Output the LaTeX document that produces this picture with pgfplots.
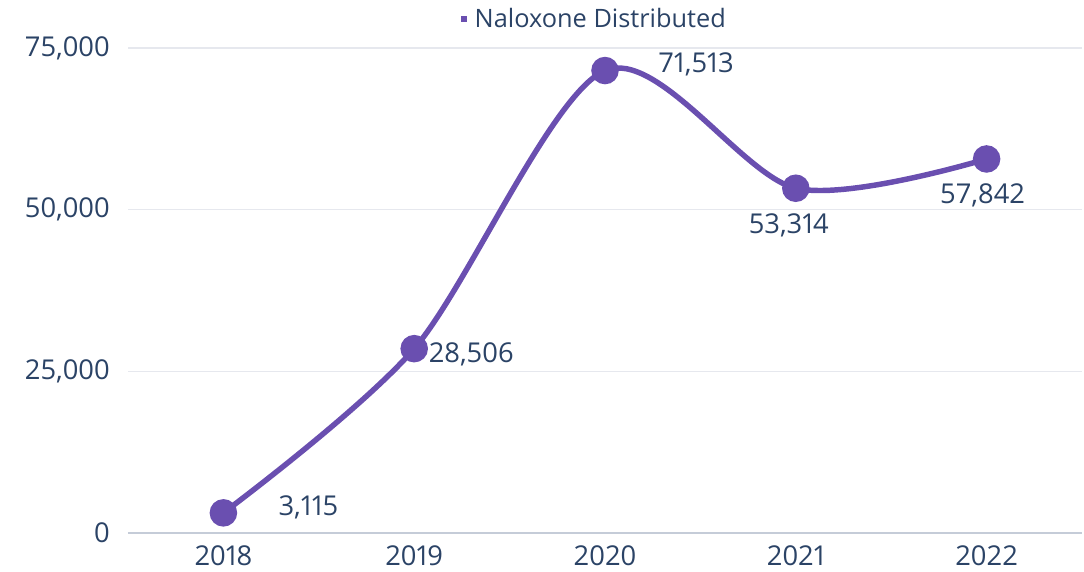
\documentclass[border=0pt]{standalone}
\usepackage{pgfplots}
\pgfplotsset{compat=1.18}
\usepackage{fontspec}
\setmainfont{Open Sans}[Numbers=Proportional]
\definecolor{linec}{HTML}{6A4FB0}
\definecolor{txt}{HTML}{2B4366}
\definecolor{gridc}{HTML}{E6E8EE}
\definecolor{zeroc}{HTML}{C5CCD8}
\pgfplotstableread{
x y dx dy label
0 3115 63.75 3.75 3,115
1 28506 42.75 -4.5 28,506
2 71513 68.25 4.5 71,513
3 53314 -5.25 -27.75 53,314
4 57842 -3 -27 57,842
}\datatable
\begin{document}
\begin{tikzpicture}
\begin{axis}[
  at={(0,0)}, anchor=south west,
  scale only axis, width=715.5pt, height=363.75pt,
  xmin=-0.5, xmax=4.5, ymin=0, ymax=75000,
  xtick={0,1,2,3,4}, xticklabels={2018,2019,2020,2021,2022},
  ytick={25000,50000,75000},
  yticklabels={{25,000},{50,000},{75,000}},
  scaled y ticks=false,
  extra y ticks={0}, extra y tick labels={0},
  extra y tick style={grid style={zeroc, line width=0.9pt}},
  axis line style={draw=none},
  major tick length=0pt,
  ymajorgrids,
  grid style={gridc, line width=0.8pt},
  tick label style={font=\fontsize{20.5}{24}\selectfont, text=txt},
  /pgf/number format/assume math mode=true,
  yticklabel style={inner sep=0pt, anchor=east, xshift=-13.5pt},
  xticklabel style={inner sep=0pt, anchor=north, yshift=-9.5pt},
  legend style={at={(axis description cs:0.4895,1)}, anchor=center, yshift=21.75pt,
    draw=none, fill=none, font=\fontsize{19}{22}\selectfont, text=txt},
  legend image code/.code={\path[draw=none, fill=none] (-3pt,0pt) -- (5pt,0pt);
    \path[draw=none, fill=linec] (-3pt,-2.25pt) rectangle (1.5pt,2.25pt);},
  clip=false,
]
\addplot[linec, line width=4.1pt, smooth, mark=*, mark size=8.25pt,
  mark options={fill=linec, draw=none},
  visualization depends on={\thisrow{dx} \as \mydx},
  visualization depends on={\thisrow{dy} \as \mydy},
  point meta=explicit symbolic,
  nodes near coords,
  every node near coord/.append style={anchor=center, xshift=\mydx pt, yshift=\mydy pt,
    font=\fontsize{20.5}{24}\selectfont, text=txt, inner sep=0pt},
] table[x=x, y=y, meta=label] {\datatable};
\addlegendentry{Naloxone Distributed}
\end{axis}
\pgfresetboundingbox
\useasboundingbox (-96pt,-28.5pt) rectangle (717pt,399.75pt);
\end{tikzpicture}
\end{document}
